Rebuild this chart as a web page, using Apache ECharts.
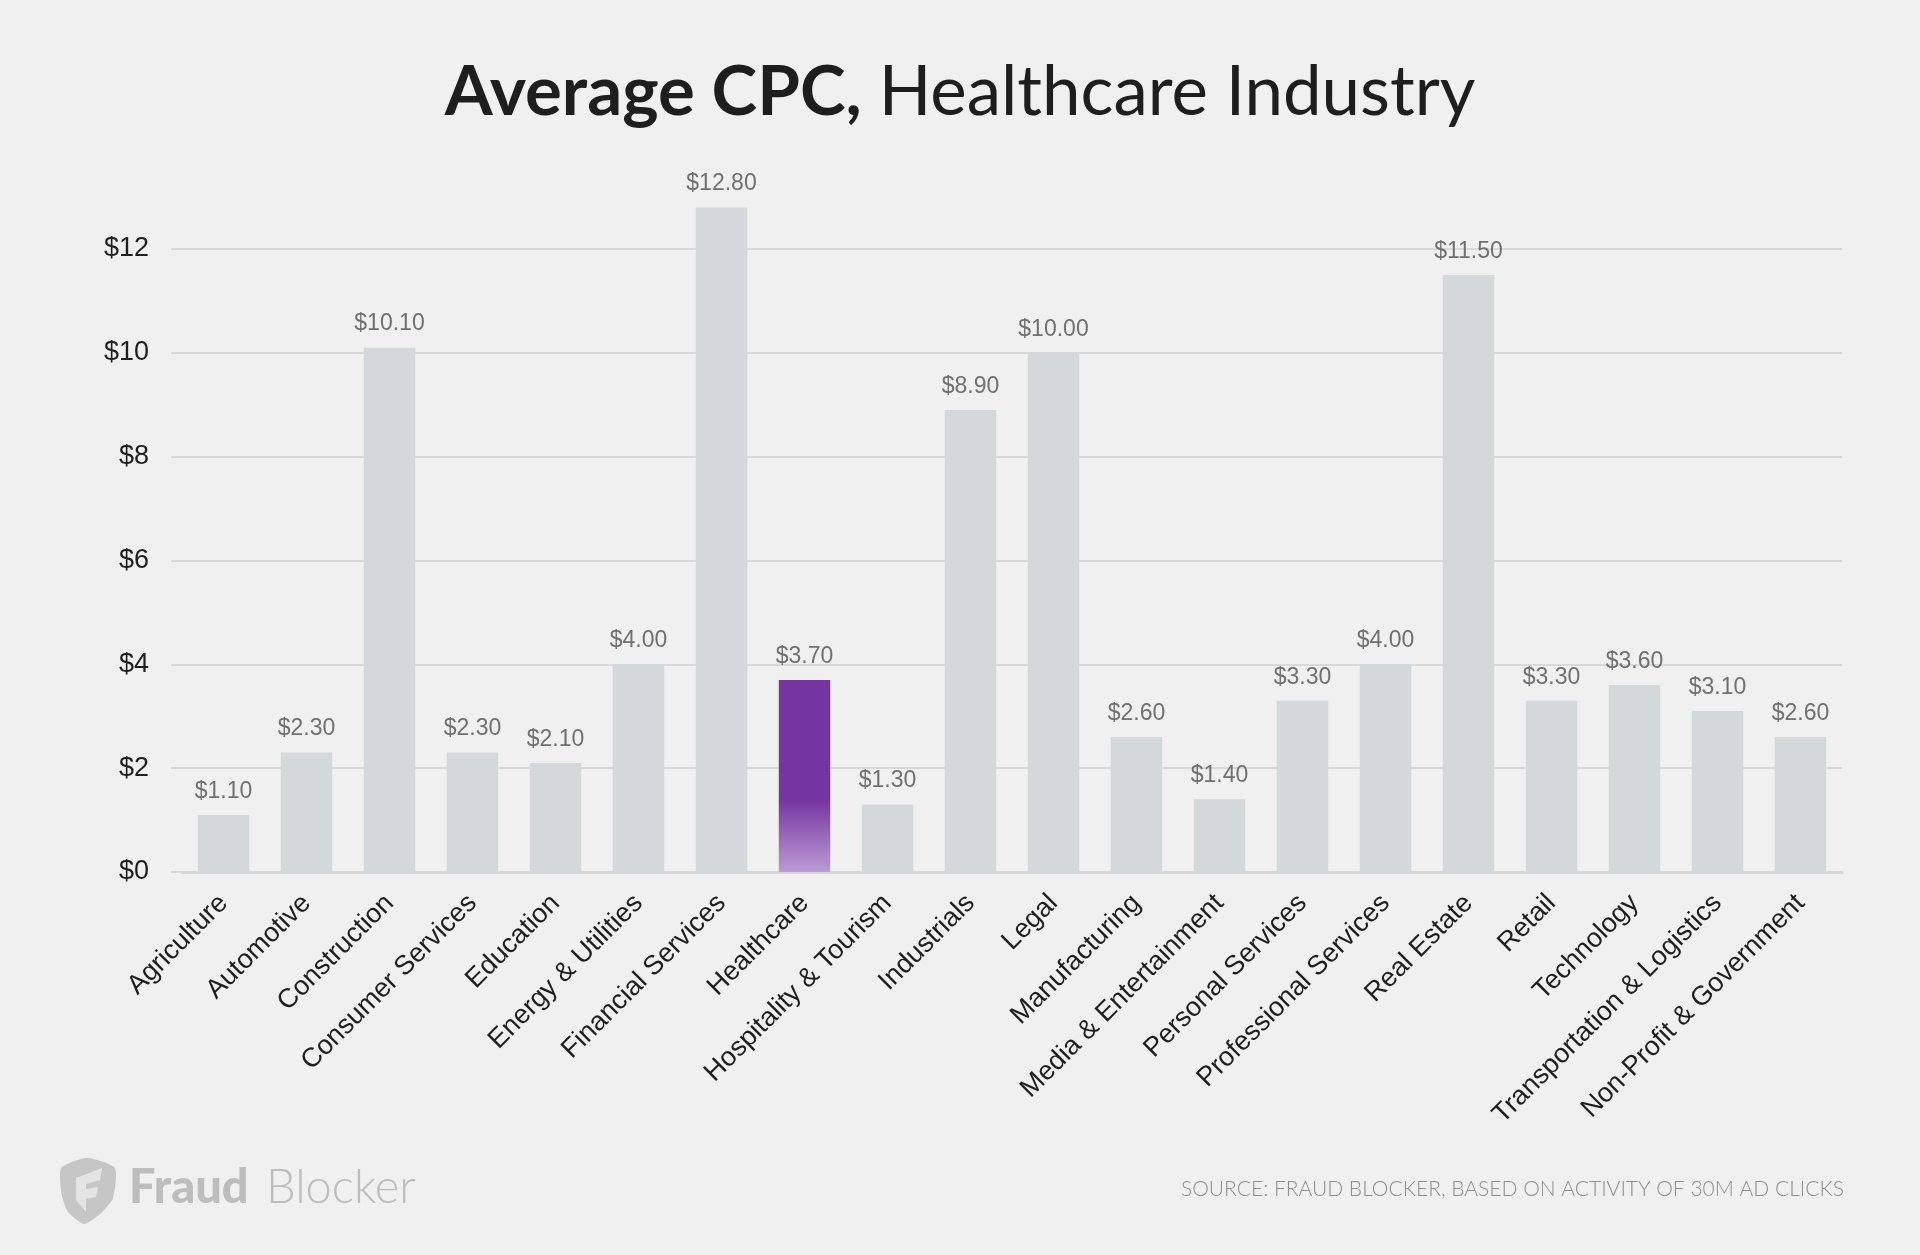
<!DOCTYPE html>
<html lang="en">
<head>
    <meta charset="UTF-8">
    <title>Average CPC, Healthcare Industry</title>
    <style>
        *{
            margin: 0;
            padding: 0;
        }
        body{
            background: #F0F0F0;
        }
        #main{
            width: 1920px;
            height: 1255px;
        }
    </style>
</head>
<body>
<div id="main"></div>

<script src="https://cdn.jsdelivr.net/npm/echarts@6/dist/echarts.min.js"></script>
<script>
    // industries on the x axis
    let industries = ['Agriculture', 'Automotive', 'Construction', 'Consumer Services', 'Education',
        'Energy & Utilities', 'Financial Services', 'Healthcare', 'Hospitality & Tourism', 'Industrials',
        'Legal', 'Manufacturing', 'Media & Entertainment', 'Personal Services', 'Professional Services',
        'Real Estate', 'Retail', 'Technology', 'Transportation & Logistics', 'Non-Profit & Government'];
    // average cost per click, dollars
    let cpc = [1.10, 2.30, 10.10, 2.30, 2.10, 4.00, 12.80, 3.70, 1.30, 8.90,
        10.00, 2.60, 1.40, 3.30, 4.00, 11.50, 3.30, 3.60, 3.10, 2.60];
    let highlight = 'Healthcare';
    let yTicks = [0, 2, 4, 6, 8, 10, 12];

    let greyBar = '#D3D8DB';
    let purple = {
        type: 'linear', x: 0, y: 0, x2: 0, y2: 1,
        colorStops: [
            {offset: 0, color: '#7535A0'},
            {offset: 0.62, color: '#7535A0'},
            {offset: 1, color: '#BC9AD4'}
        ]
    };

    let barData = [];
    for(let i = 0;i<cpc.length;i++){
        barData.push({
            value: cpc[i],
            itemStyle: {color: industries[i] === highlight ? purple : greyBar}
        });
    }

    let myChart = echarts.init(document.getElementById('main'));
    myChart.setOption({
        backgroundColor: '#F0F0F0',
        animation: false,
        title: {
            left: 'center',
            top: 53,
            text: '{b|Average CPC,}{r|Healthcare Industry}',
            textStyle: {
                rich: {
                    b: {fontFamily: 'Lato', fontWeight: 'bold', fontSize: 69, color: '#1E1E1E', padding: [0, 17, 0, 0]},
                    r: {fontFamily: 'Lato', fontWeight: 'normal', fontSize: 69, color: '#1E1E1E'}
                }
            }
        },
        grid: {
            left: 182,
            right: 78,
            top: 249,
            bottom: 383,
            containLabel: false
        },
        xAxis: {
            type: 'category',
            data: industries,
            axisLine: {show: true, lineStyle: {color: '#D9D9D9', width: 3}},
            axisTick: {show: false},
            axisLabel: {
                interval: 0,
                rotate: 45,
                margin: 27,
                fontFamily: 'Liberation Sans',
                fontSize: 27,
                color: '#1E1E1E'
            }
        },
        yAxis: {
            type: 'value',
            min: 0,
            max: 12,
            interval: 2,
            axisLine: {show: false},
            axisTick: {show: true, length: 11, lineStyle: {color: '#D9D9D9', width: 2}},
            splitLine: {lineStyle: {color: '#D9D9D9', width: 2}},
            axisLabel: {
                margin: 33,
                fontFamily: 'Liberation Sans',
                fontSize: 27,
                color: '#1E1E1E',
                formatter: function(v){
                    return yTicks.indexOf(v) >= 0 ? '$' + v : '';
                }
            }
        },
        series: [{
            type: 'bar',
            data: barData,
            barCategoryGap: '38%',
            clip: false,
            label: {
                show: true,
                position: 'top',
                distance: 12,
                fontFamily: 'Liberation Sans',
                fontSize: 23,
                color: '#707070',
                formatter: function(p){
                    return '$' + p.value.toFixed(2);
                }
            }
        }],
        graphic: [
            {
                type: 'polygon',
                shape: {
                    points: [[61, 1168], [87, 1158], [115, 1168], [113, 1198], [100, 1214], [84, 1224], [68, 1212], [62, 1196]],
                    smooth: 0.2
                },
                style: {fill: '#C6C6C6'}
            },
            {
                type: 'polygon',
                shape: {
                    points: [[76, 1178], [102, 1168], [100, 1180], [86, 1184], [86, 1189], [98, 1187], [96, 1197], [86, 1199], [86, 1212], [76, 1200]]
                },
                style: {fill: '#E4E4E4'}
            },
            {
                type: 'text',
                left: 129,
                top: 1164,
                style: {
                    text: 'Fraud',
                    fontFamily: 'Lato',
                    fontWeight: 900,
                    fontSize: 47,
                    fill: '#BDBDBD'
                }
            },
            {
                type: 'text',
                left: 266,
                top: 1164,
                style: {
                    text: 'Blocker',
                    fontFamily: 'Lato',
                    fontWeight: 300,
                    fontSize: 47,
                    fill: '#BDBDBD'
                }
            },
            {
                type: 'text',
                right: 76,
                top: 1179,
                style: {
                    text: 'SOURCE: FRAUD BLOCKER, BASED ON ACTIVITY OF 30M AD CLICKS',
                    fontFamily: 'Lato',
                    fontWeight: 300,
                    fontSize: 21,
                    fill: '#8F8F8F'
                }
            }
        ]
    });
</script>
</body>
</html>
